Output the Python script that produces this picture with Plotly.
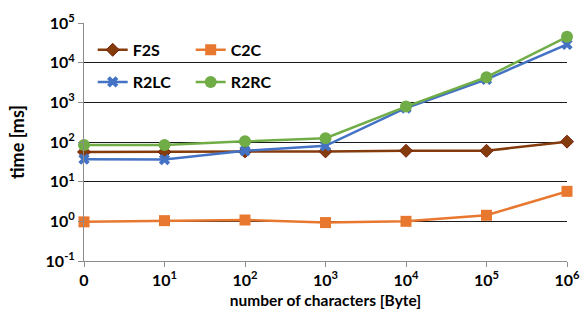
import plotly.graph_objects as go

x_labels = ["0", "10<sup>1</sup>", "10<sup>2</sup>", "10<sup>3</sup>", "10<sup>4</sup>", "10<sup>5</sup>", "10<sup>6</sup>"]
y_tickvals = [0.1, 1, 10, 100, 1000, 10000, 100000]
y_ticktext = ["10<sup>-1</sup>", "10<sup>0</sup>", "10<sup>1</sup>", "10<sup>2</sup>", "10<sup>3</sup>", "10<sup>4</sup>", "10<sup>5</sup>"]

f2s = [56, 56, 58, 58, 60, 60, 102]
c2c = [0.97, 1.04, 1.08, 0.93, 1.0, 1.42, 5.7]
r2lc = [37, 36, 60, 80, 720, 3800, 29000]
r2rc = [84, 84, 104, 125, 780, 4300, 45000]

xs = list(range(len(x_labels)))
FONT = "Lato"

fig = go.Figure()
series = [
    ("F2S", f2s, "#843C0C", dict(symbol="diamond", size=10, color="#843C0C", line=dict(color="#7a1f0a", width=1)), "legend"),
    ("C2C", c2c, "#E8782F", dict(symbol="square", size=11, color="#E8782F"), "legend"),
    ("R2LC", r2lc, "#4472C4", dict(symbol="x", size=10, color="#4472C4"), "legend2"),
    ("R2RC", r2rc, "#70AD47", dict(symbol="circle", size=12, color="#70AD47"), "legend2"),
]
for name, ys, col, mk, lg in series:
    fig.add_trace(go.Scatter(
        x=xs, y=ys, name=name, mode="lines+markers",
        line=dict(color=col, width=2.5), marker=mk, cliponaxis=False, legend=lg,
    ))

legend_common = dict(
    orientation="h", xanchor="left", yanchor="middle", x=0.018,
    bgcolor="rgba(0,0,0,0)", font=dict(family=FONT, size=16, color="#000", weight="bold"),
    entrywidth=53, itemwidth=30, traceorder="normal",
)

fig.update_layout(
    width=584, height=316,
    margin=dict(l=84, r=17, t=23, b=55),
    plot_bgcolor="white", paper_bgcolor="white",
    font=dict(family=FONT, size=16, color="#000", weight="bold"),
    showlegend=True,
    legend=dict(legend_common, y=0.887),
    legend2=dict(legend_common, y=0.752),
    xaxis=dict(
        range=[0, 6], tickvals=xs, ticktext=x_labels, automargin=False,
        showgrid=False, zeroline=False,
        showline=True, linecolor="#8c8c8c", linewidth=1,
        ticks="outside", ticklen=5, tickcolor="#8c8c8c",
        title=dict(text="number of characters [Byte]", standoff=6,
                   font=dict(family=FONT, size=15.5, weight="bold")),
        tickfont=dict(family=FONT, size=16, weight="bold"),
    ),
    yaxis=dict(
        type="log", range=[-1, 5], tickvals=y_tickvals, ticktext=y_ticktext, automargin=False,
        showgrid=True, gridcolor="#1a1a1a", gridwidth=1, zeroline=False,
        showline=True, linecolor="#8c8c8c", linewidth=1,
        ticks="outside", ticklen=5, tickcolor="#8c8c8c",
        title=dict(text="time [ms]", standoff=16,
                   font=dict(family=FONT, size=18, weight="bold")),
        tickfont=dict(family=FONT, size=16, weight="bold"),
    ),
)

fig.write_html(
    "out.html",
    config={"displayModeBar": False},
    post_script="document.body.style.margin='0';document.body.style.overflow='hidden';",
)
